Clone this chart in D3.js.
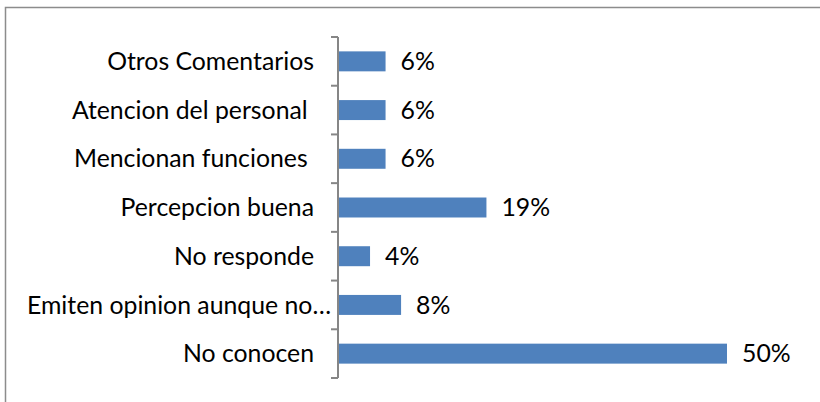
<!DOCTYPE html>
<html>
<head>
<meta charset="utf-8">
<script src="https://cdn.jsdelivr.net/npm/d3@7"></script>
<style>
  body { margin: 0; background: #fff; }
  text { font-family: Lato, "Open Sans", sans-serif; }
</style>
</head>
<body>
<script>
// categorias de arriba hacia abajo
var categorias = ["Otros Comentarios", "Atencion del personal ", "Mencionan funciones ",
  "Percepcion buena", "No responde", "Emiten opinion aunque no\u2026", "No conocen"];
var valores = [6, 6, 6, 19, 4, 8, 50];

var W = 820, H = 402;
var svg = d3.select("body").append("svg")
  .attr("width", W).attr("height", H);

// marco del grafico
svg.append("rect")
  .attr("x", 5.5).attr("y", 7.5)
  .attr("width", W + 10).attr("height", H + 10)
  .attr("fill", "none")
  .attr("stroke", "#8c8c8c")
  .attr("stroke-width", 1.5);

var x0 = 338;
var xRange = d3.scaleLinear().domain([0, 50]).range([x0, 726]);
var yRange = d3.scaleBand().domain(categorias).range([37, 378]).paddingInner(0.59).paddingOuter(0.295);

// barras
svg.selectAll("rect.bar")
  .data(valores)
  .enter()
  .append("rect")
  .attr("class", "bar")
  .attr("x", x0 + 1)
  .attr("y", (d, i) => yRange(categorias[i]))
  .attr("width", d => xRange(d) - x0)
  .attr("height", yRange.bandwidth())
  .attr("fill", "#4F81BD");

// eje vertical con ticks en los limites de cada banda
var bordes = d3.range(categorias.length + 1).map(i => 37 + i * (341 / categorias.length));
var eje = svg.append("g");
eje.append("line")
  .attr("x1", x0).attr("x2", x0)
  .attr("y1", 37).attr("y2", 378)
  .attr("stroke", "#868686").attr("stroke-width", 2);
eje.selectAll("line.tick")
  .data(bordes)
  .enter()
  .append("line")
  .attr("class", "tick")
  .attr("x1", x0 - 7).attr("x2", x0)
  .attr("y1", d => d).attr("y2", d => d)
  .attr("stroke", "#868686").attr("stroke-width", 2);

// etiquetas de categoria (la truncada llega casi hasta el eje)
svg.selectAll("text.cat")
  .data(categorias)
  .enter()
  .append("text")
  .attr("class", "cat")
  .attr("x", d => d.endsWith("\u2026") ? 331 : 314)
  .attr("y", d => yRange(d) + yRange.bandwidth() / 2)
  .attr("dy", "0.35em")
  .attr("text-anchor", "end")
  .attr("font-size", 24.8)
  .attr("fill", "#000")
  .style("white-space", "pre")
  .text(d => d);

// etiquetas de valor
svg.selectAll("text.val")
  .data(valores)
  .enter()
  .append("text")
  .attr("class", "val")
  .attr("x", d => xRange(d) + 16)
  .attr("y", (d, i) => yRange(categorias[i]) + yRange.bandwidth() / 2)
  .attr("dy", "0.35em")
  .attr("font-size", 24.8)
  .attr("fill", "#000")
  .text(d => d + "%");
</script>
</body>
</html>
